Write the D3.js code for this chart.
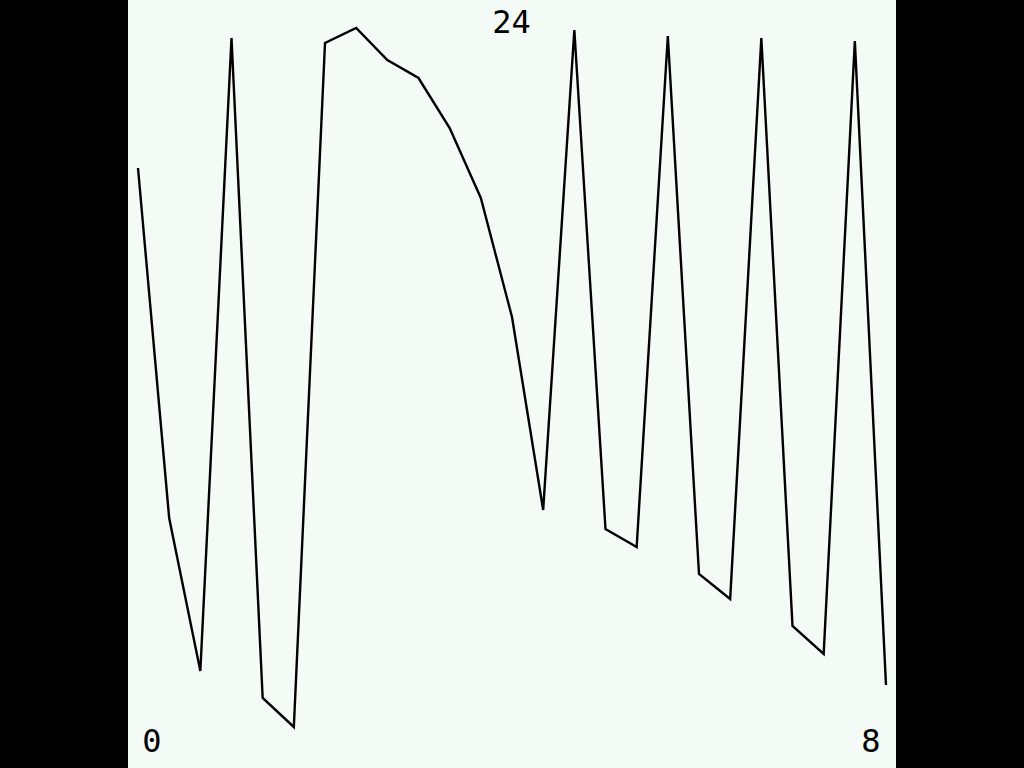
<!DOCTYPE html>
<html>
<head>
<meta charset="utf-8">
<script src="https://cdn.jsdelivr.net/npm/d3@7"></script>
<style>
html,body{margin:0;padding:0;background:#000;}
svg{display:block;}
</style>
</head>
<body>
<script>
// Data: index of sample and value (height above panel bottom, 0..768 units)
const indices = d3.range(25);
const values = [600, 250, 97, 730, 70, 41, 725, 740, 708, 690, 640, 570, 451, 258, 738, 239, 221, 732, 194, 169, 730, 142, 114, 727, 83];
const topLabel = "24";
const leftLabel = "0";
const rightLabel = "8";

const W = 1024, H = 768;
const panelX = 128, panelW = 768;

const svg = d3.select("body").append("svg").attr("width", W).attr("height", H);
svg.append("rect").attr("x", 0).attr("y", 0).attr("width", W).attr("height", H).attr("fill", "#000");
svg.append("rect").attr("x", panelX).attr("y", 0).attr("width", panelW).attr("height", H).attr("fill", "#f4faf6");

const x = d3.scaleLinear().domain([0, 24]).range([138, 886]);
const y = d3.scaleLinear().domain([0, 768]).range([768, 0]);

const line = d3.line().x((d, i) => x(indices[i])).y(d => y(d));
svg.append("path").datum(values)
  .attr("d", line)
  .attr("fill", "none")
  .attr("stroke", "#000")
  .attr("stroke-width", 2.4)
  .attr("stroke-linejoin", "miter");

const font = "'DejaVu Sans Mono', monospace";
svg.append("text").attr("x", 511.5).attr("y", 33).attr("text-anchor", "middle")
  .attr("font-family", font).attr("font-size", 32).attr("fill", "#000").text(topLabel);
svg.append("text").attr("x", 152).attr("y", 752).attr("text-anchor", "middle")
  .attr("font-family", font).attr("font-size", 32).attr("fill", "#000").text(leftLabel);
svg.append("text").attr("x", 871).attr("y", 752).attr("text-anchor", "middle")
  .attr("font-family", font).attr("font-size", 32).attr("fill", "#000").text(rightLabel);
</script>
</body>
</html>
